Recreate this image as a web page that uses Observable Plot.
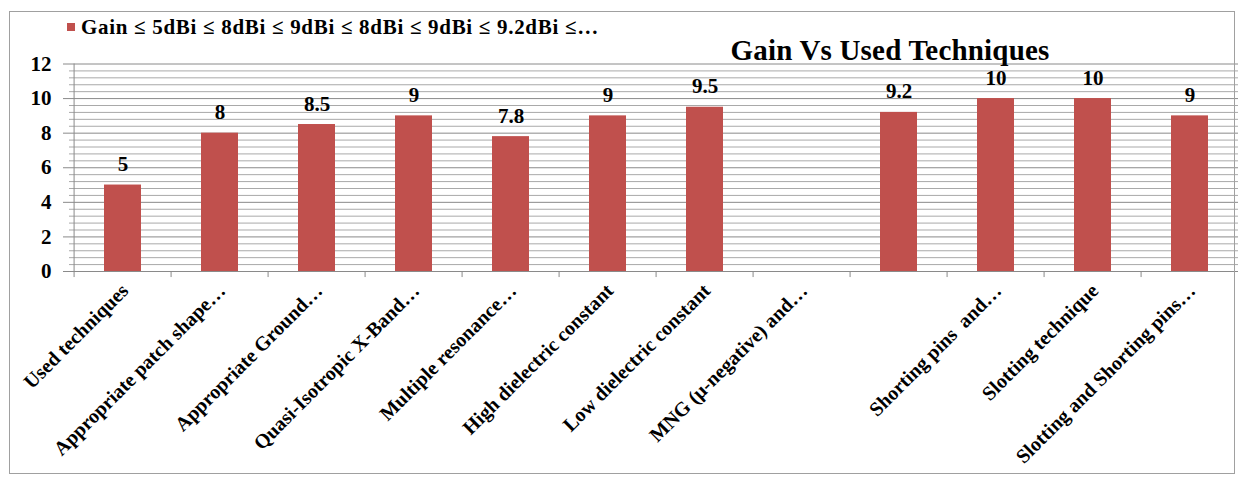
<!DOCTYPE html>
<html><head><meta charset="utf-8">
<script src="https://cdn.jsdelivr.net/npm/d3@7"></script>
<script src="https://cdn.jsdelivr.net/npm/@observablehq/plot@0.6"></script>
<style>
html,body{margin:0;padding:0;background:#fff;overflow:hidden;}
#wrap{position:relative;width:1238px;height:477px;overflow:hidden;font-family:"Liberation Serif","Times New Roman",serif;font-weight:bold;color:#000;}
#chart{position:absolute;left:0;top:0;}
#frame{position:absolute;left:9px;top:11px;width:1226px;height:463px;border:1px solid #a0a0a0;box-sizing:border-box;pointer-events:none;}
#legend{position:absolute;left:67px;top:17px;font-size:21px;line-height:21px;white-space:nowrap;letter-spacing:0.7px;}
#legend .sw{display:inline-block;width:8px;height:8px;background:#c0504d;margin-right:6px;position:relative;top:-3px;}
#title{position:absolute;left:890px;top:36px;transform:translateX(-50%);font-size:29px;line-height:28px;white-space:nowrap;letter-spacing:0.2px;}
</style>
</head><body>
<div id="wrap">
  <div id="chart"></div>
  <div id="legend"><span class="sw"></span>Gain ≤ 5dBi ≤ 8dBi ≤ 9dBi ≤ 8dBi ≤ 9dBi ≤ 9.2dBi ≤…</div>
  <div id="title">Gain Vs Used Techniques</div>
  <div id="frame"></div>
</div>
<script>
const categories = [
  "Used techniques",
  "Appropriate patch shape…",
  "Appropriate Ground…",
  "Quasi-Isotropic X-Band…",
  "Multiple resonance…",
  "High dielectric constant",
  "Low dielectric constant",
  "MNG (μ-negative) and…",
  "",
  "Shorting pins  and…",
  "Slotting technique",
  "Slotting and Shorting pins…"
];
const gainValues = [5, 8, 8.5, 9, 7.8, 9, 9.5, null, 9.2, 10, 10, 9];
const yTickValues = [0, 2, 4, 6, 8, 10, 12];
const yMinorValues = d3.range(0, 12.001, 0.4).filter(v => Math.abs(v / 2 - Math.round(v / 2)) > 1e-6);

const data = categories.map((c, i) => ({cat: c, value: gainValues[i]}));
const barData = data.filter(d => d.value != null);

const W = 1246, H = 477;
const mL = 69, mR = 3, mT = 63.5, mB = 206;
const step = (W - mL - mR) / categories.length;

const chart = Plot.plot({
  width: W,
  height: H,
  marginLeft: mL,
  marginRight: mR,
  marginTop: mT,
  marginBottom: mB,
  style: {fontFamily: "'Liberation Serif','Times New Roman',serif", fontWeight: "bold", background: "transparent", maxWidth: "none", color: "#000", overflow: "visible"},
  x: {domain: categories, paddingInner: 0.62, paddingOuter: 0.31, label: null},
  y: {domain: [0, 12], label: null},
  marks: [
    Plot.ruleY(yMinorValues, {stroke: "#a9a9a9", strokeWidth: 1}),
    Plot.gridY(yTickValues, {stroke: "#8a8a8a", strokeOpacity: 1, strokeWidth: 1, insetLeft: -6}),
    Plot.ruleX([categories[0]], {x: d => d, y1: 0, y2: 12, dx: -step / 2, stroke: "#8a8a8a"}),
    Plot.ruleX(categories, {x: d => d, y1: 0, y2: -0.35, dx: -step / 2, stroke: "#8a8a8a"}),
    Plot.ruleX([categories[categories.length - 1]], {x: d => d, y1: 0, y2: -0.35, dx: step / 2, stroke: "#8a8a8a"}),
    Plot.barY(barData, {x: "cat", y: "value", fill: "#c0504d"}),
    Plot.ruleY([0], {stroke: "#8a8a8a"}),
    Plot.text(barData, {x: "cat", y: "value", text: d => String(d.value), dy: -14, lineAnchor: "bottom", fontSize: 21, fill: "#000"}),
    Plot.axisY({ticks: yTickValues, tickSize: 0, tickPadding: 18, fontSize: 21, tickFormat: d => String(d), fill: "#000"}),
    Plot.axisX({tickRotate: -45, tickSize: 0, tickPadding: 16, fontSize: 20, dx: 2, fill: "#000"})
  ]
});
document.getElementById("chart").appendChild(chart);
</script>
</body></html>
